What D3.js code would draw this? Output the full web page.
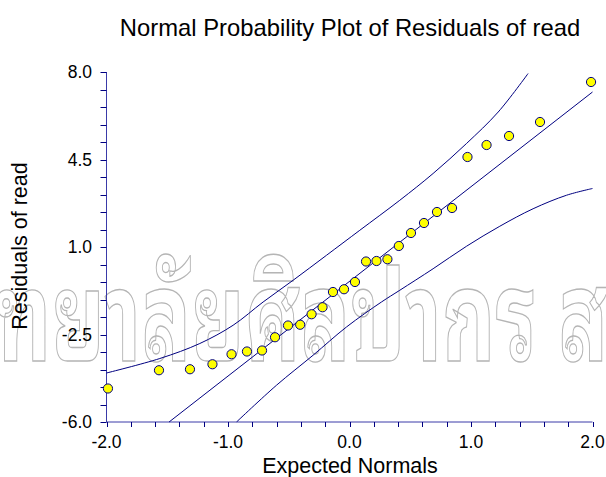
<!DOCTYPE html>
<html>
<head>
<meta charset="utf-8">
<script src="https://cdn.jsdelivr.net/npm/d3@7"></script>
<style>
  html, body { margin: 0; padding: 0; background: #ffffff; }
  svg { display: block; font-family: "Liberation Sans", Arial, sans-serif; }
</style>
</head>
<body>
<svg id="chart" width="606" height="477"></svg>
<script>
// ---- data ----
const expectedNormals = [-1.988,-1.568,-1.313,-1.128,-0.971,-0.844,-0.720,-0.613,-0.506,-0.406,-0.312,-0.222,-0.136,-0.045,
                          0.045,0.136,0.222,0.312,0.406,0.506,0.613,0.720,0.844,0.971,1.128,1.313,1.568,1.988];
const residuals = [-4.66,-3.93,-3.89,-3.69,-3.29,-3.18,-3.14,-2.61,-2.14,-2.11,-1.69,-1.41,-0.80,-0.69,
                   -0.40,0.42,0.44,0.51,1.04,1.56,1.96,2.40,2.56,4.60,5.08,5.44,6.00,7.60];
const fitLine = [{x:-1.485, y:-6.0}, {x:2.0, y:7.2}];
const upperBand = [{x:-2.0,y:-4.04},{x:-1.561,y:-3.46},{x:-1.232,y:-2.86},{x:-0.958,y:-2.13},{x:-0.711,y:-1.20},
                   {x:-0.464,y:-0.33},{x:-0.189,y:0.67},{x:0.085,y:1.67},{x:0.414,y:2.87},{x:0.688,y:3.94},
                   {x:0.963,y:5.14},{x:1.224,y:6.40},{x:1.47,y:7.94}];
const lowerBand = [{x:-0.93,y:-6.0},{x:-0.601,y:-4.53},{x:-0.30,y:-3.33},{x:-0.025,y:-2.20},{x:0.263,y:-1.20},
                   {x:0.414,y:-0.73},{x:0.688,y:0.13},{x:0.963,y:1.03},{x:1.237,y:1.83},{x:1.511,y:2.53},
                   {x:1.786,y:3.07},{x:2.0,y:3.34}];
const xMajorTicks = [-2.0,-1.0,0.0,1.0,2.0];
const yMajorTicks = [8.0,4.5,1.0,-2.5,-6.0];
const xMinorStep = 0.2;
const yMinorStep = 0.7;
const titleText = "Normal Probability Plot of Residuals of read";
const xTitle = "Expected Normals";
const yTitle = "Residuals of read";
const watermarkLead = "มหาวิ";
const watermarkMain = "ทยาลัยศิลปากร";
const watermarkTail = " สงวนลิขสิทธิ์";

// ---- drawing ----
const svg = d3.select("#chart");
const x = d3.scaleLinear().domain([-2, 2]).range([106.5, 592.5]);
const y = d3.scaleLinear().domain([-6, 8]).range([422, 72]);
const navy = "#000080";
const axisBlue = "#3a3aa8";
const fmt = d => d3.format(".1f")(d).replace("\u2212", "-");

// watermark (outlined Thai text behind the plot)
const wm = svg.append("g").attr("class", "watermark");
const wmText = wm.append("text")
  .attr("x", 0).attr("y", 0)
  .attr("font-family", "'Noto Sans Thai Looped', 'Noto Serif Thai', Norasi, Kinnari, Garuda, Loma, 'Noto Sans Thai', 'Tlwg Typo', 'DejaVu Sans', sans-serif")
  .attr("font-size", 120)
  .attr("font-weight", 700)
  .attr("fill", "none")
  .attr("stroke", "#b5b5b5")
  .attr("stroke-width", 1.1)
  .text(watermarkLead + watermarkMain + watermarkTail);
(function fitWatermark(){
  const node = wmText.node();
  let leadW = 0, mainW = 1;
  try {
    leadW = node.getSubStringLength(0, watermarkLead.length);
    mainW = node.getSubStringLength(watermarkLead.length, watermarkMain.length);
  } catch(e) { mainW = node.getComputedTextLength() * 0.6; }
  const sx = 542 / mainW;
  const sy = 69 / (120 * 0.55);
  const tx = -5 - leadW * sx;
  wmText.attr("transform", `translate(${tx},361) scale(${sx},${sy})`)
        .attr("stroke-width", 1.1 / Math.sqrt(sx * sy));
})();

// axes lines
svg.append("line").attr("x1", x(-2)).attr("x2", x(2)).attr("y1", y(-6)).attr("y2", y(-6))
  .attr("stroke", axisBlue).attr("stroke-width", 1);
svg.append("line").attr("x1", x(-2)).attr("x2", x(-2)).attr("y1", y(-6)).attr("y2", y(8))
  .attr("stroke", axisBlue).attr("stroke-width", 1);

// x ticks
const xTickVals = d3.range(-2, 2.0001, xMinorStep);
svg.append("g").selectAll("line").data(xTickVals).join("line")
  .attr("x1", d => Math.round(x(d)) + 0.5).attr("x2", d => Math.round(x(d)) + 0.5)
  .attr("y1", y(-6)).attr("y2", y(-6) + 5)
  .attr("stroke", navy).attr("stroke-width", 1);
svg.append("g").selectAll("text").data(xMajorTicks).join("text")
  .attr("x", d => x(d)).attr("y", 448)
  .attr("text-anchor", "middle").attr("font-size", 17.5).attr("fill", "#000")
  .text(fmt);

// y ticks
const yTickVals = d3.range(-6, 8.0001, yMinorStep);
svg.append("g").selectAll("line").data(yTickVals).join("line")
  .attr("x1", x(-2) - 6).attr("x2", x(-2))
  .attr("y1", d => Math.round(y(d)) + 0.5).attr("y2", d => Math.round(y(d)) + 0.5)
  .attr("stroke", navy).attr("stroke-width", 1);
svg.append("g").selectAll("text").data(yMajorTicks).join("text")
  .attr("x", 92).attr("y", d => y(d) + 6)
  .attr("text-anchor", "end").attr("font-size", 17.5).attr("fill", "#000")
  .text(fmt);

// titles
svg.append("text").attr("x", 350).attr("y", 36).attr("text-anchor", "middle")
  .attr("font-size", 23.8).attr("fill", "#000").text(titleText);
svg.append("text").attr("x", 350).attr("y", 473).attr("text-anchor", "middle")
  .attr("font-size", 21.5).attr("fill", "#000").text(xTitle);
svg.append("text").attr("transform", "translate(26.5,246) rotate(-90)").attr("text-anchor", "middle")
  .attr("font-size", 21.5).attr("fill", "#000").text(yTitle);

// lines
const line = d3.line().x(d => x(d.x)).y(d => y(d.y));
const curve = d3.line().x(d => x(d.x)).y(d => y(d.y)).curve(d3.curveCatmullRom.alpha(0.5));
svg.append("path").attr("d", line(fitLine)).attr("fill", "none").attr("stroke", navy).attr("stroke-width", 1);
svg.append("path").attr("d", curve(upperBand)).attr("fill", "none").attr("stroke", navy).attr("stroke-width", 1);
svg.append("path").attr("d", curve(lowerBand)).attr("fill", "none").attr("stroke", navy).attr("stroke-width", 1);

// points
const pts = expectedNormals.map((v, i) => ({x: v, y: residuals[i]}));
svg.append("g").selectAll("circle").data(pts).join("circle")
  .attr("cx", d => x(d.x)).attr("cy", d => y(d.y)).attr("r", 4.6)
  .attr("fill", "#ffff00").attr("stroke", navy).attr("stroke-width", 1);
</script>
</body>
</html>
